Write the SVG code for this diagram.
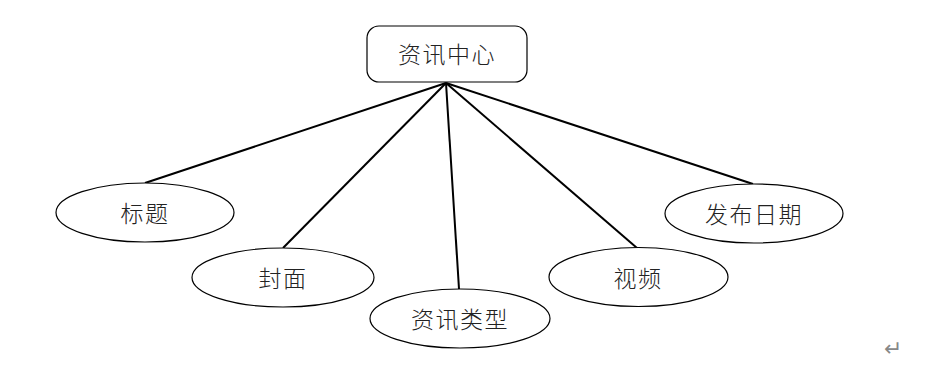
<svg xmlns="http://www.w3.org/2000/svg" width="930" height="368" viewBox="0 0 930 368">
<style>
.n{fill:#fff;stroke:#000;stroke-width:1.2}
.t{font-family:"Noto Sans CJK SC","Noto Sans CJK JP",sans-serif;font-size:23px;font-weight:300;fill:#222;text-anchor:middle;dominant-baseline:central;letter-spacing:1.5px}
.c{stroke:#000;stroke-width:2;fill:none}
</style>
<rect width="930" height="368" fill="#fff"/>
<g id="connectors">
<line class="c" x1="446" y1="83" x2="145" y2="183"/>
<line class="c" x1="446" y1="83" x2="283" y2="248"/>
<line class="c" x1="446" y1="83" x2="459" y2="289"/>
<line class="c" x1="446" y1="83" x2="637" y2="248"/>
<line class="c" x1="446" y1="83" x2="753" y2="184"/>
</g>
<g id="center">
<rect class="n" x="367" y="26" width="160" height="56" rx="12"/>
<text class="t" x="447" y="53">资讯中心</text>
</g>
<g id="title">
<ellipse class="n" cx="145" cy="212.5" rx="89" ry="29.5"/>
<text class="t" x="145" y="212">标题</text>
</g>
<g id="cover">
<ellipse class="n" cx="283" cy="277.5" rx="91" ry="29.5"/>
<text class="t" x="283" y="277">封面</text>
</g>
<g id="type">
<ellipse class="n" cx="460" cy="318.5" rx="90" ry="29.5"/>
<text class="t" x="460" y="318">资讯类型</text>
</g>
<g id="video">
<ellipse class="n" cx="638.5" cy="277" rx="89.5" ry="29.5"/>
<text class="t" x="638" y="277">视频</text>
</g>
<g id="date">
<ellipse class="n" cx="754" cy="213.5" rx="89" ry="29.5"/>
<text class="t" x="754" y="213">发布日期</text>
</g>
<text x="893" y="348" font-family="DejaVu Sans,sans-serif" font-size="22" fill="#888" text-anchor="middle" dominant-baseline="central">↵</text>
</svg>
